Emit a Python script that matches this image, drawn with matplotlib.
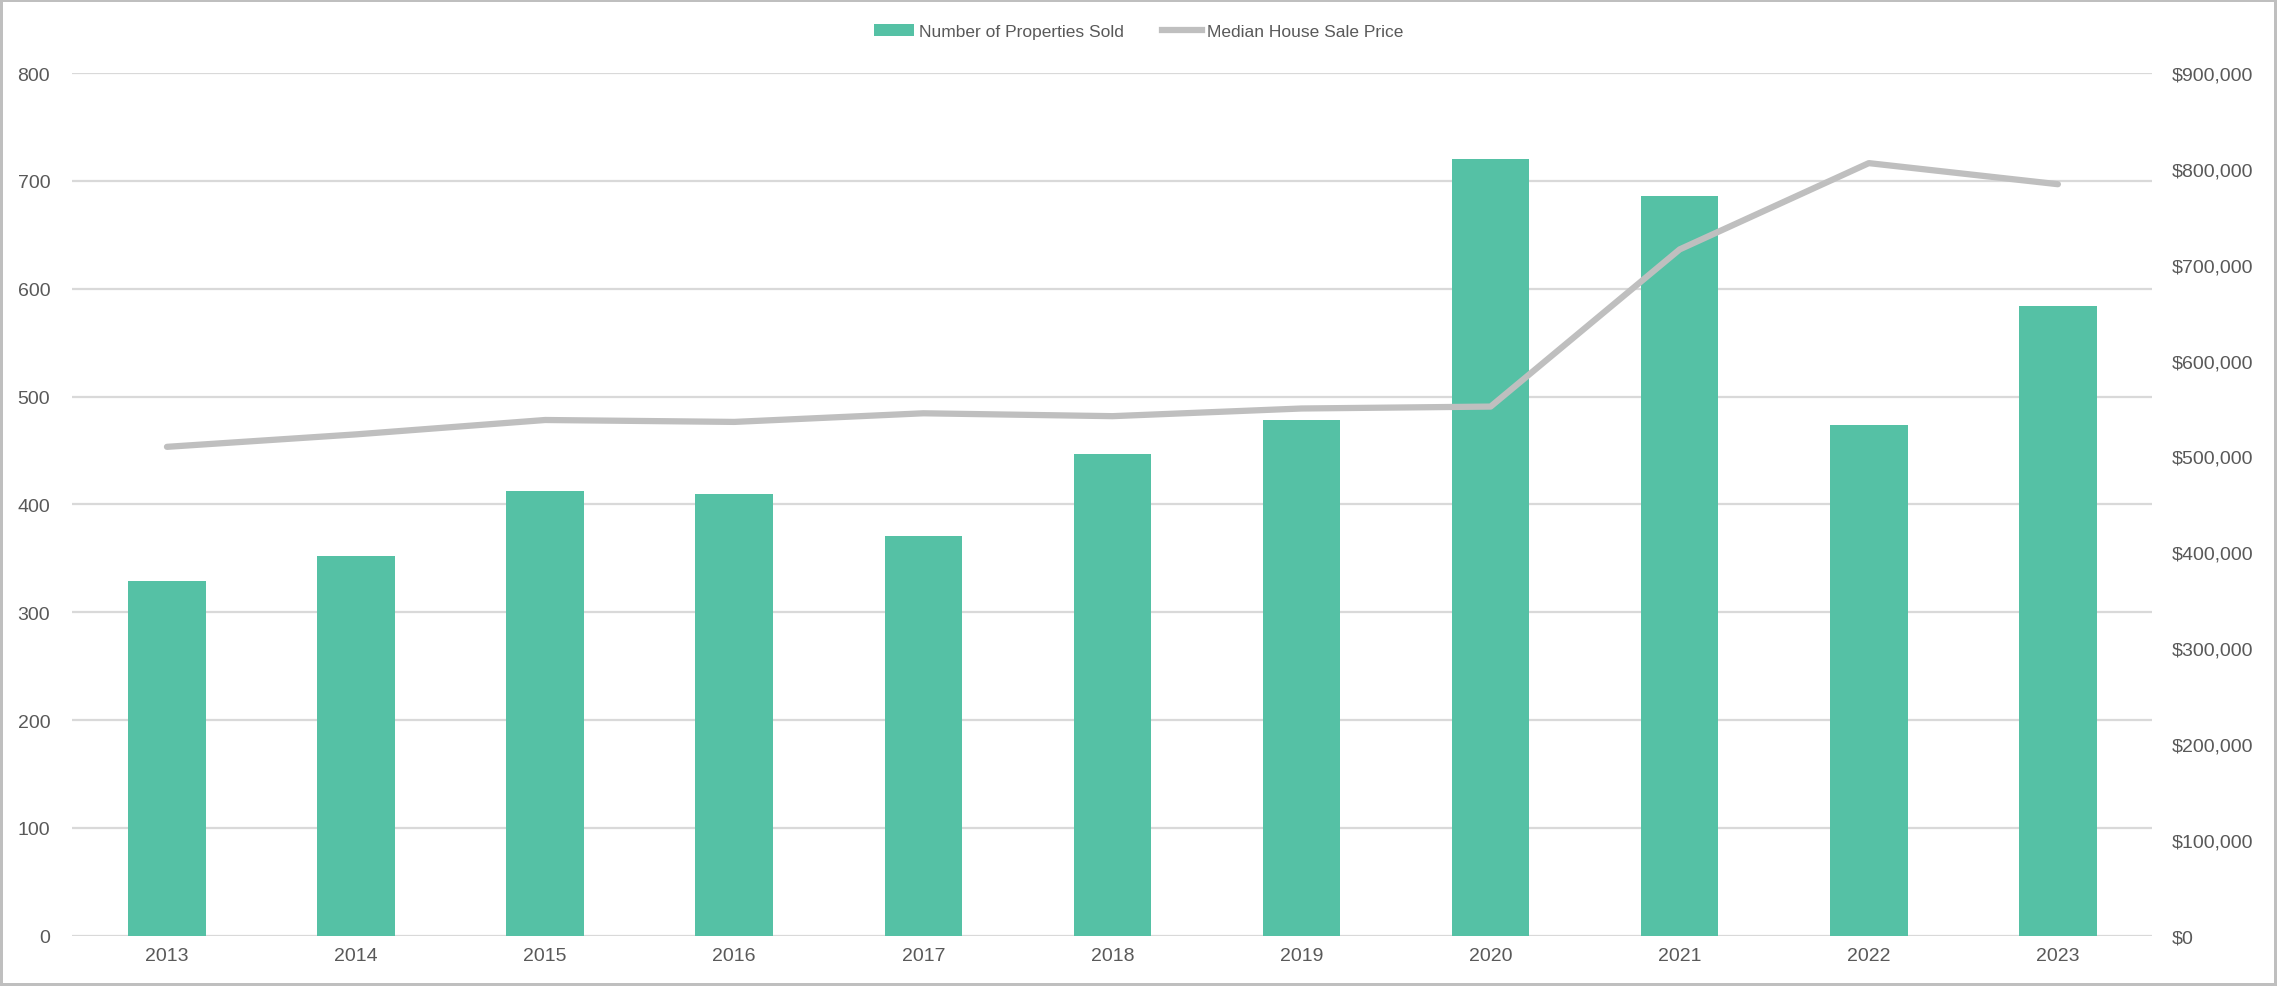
import matplotlib.pyplot as plt
import numpy as np
from matplotlib.ticker import FuncFormatter
from matplotlib.lines import Line2D
from matplotlib.patches import Patch

plt.rcParams['font.family'] = ['Liberation Sans', 'DejaVu Sans']

years = ['2013', '2014', '2015', '2016', '2017', '2018', '2019', '2020', '2021', '2022', '2023']
properties_sold = [329, 352, 412, 410, 371, 447, 478, 720, 686, 474, 584]
median_price = [510000, 523000, 538000, 536000, 545000, 542000, 550000, 552000, 716000, 806000, 784000]

bar_color = '#55C1A5'
line_color = '#BFBFBF'
grid_color = '#D9D9D9'
text_color = '#595959'

fig = plt.figure(figsize=(22.77, 9.87), dpi=100)
fig.patch.set_edgecolor('#BFBFBF')
fig.patch.set_linewidth(4)
ax = fig.add_axes([0.0318, 0.051, 0.9135, 0.874])
ax2 = ax.twinx()

x = np.arange(len(years))
ax.bar(x, properties_sold, width=0.41, color=bar_color, zorder=2)
ax2.plot(x, median_price, color=line_color, linewidth=4.5, solid_capstyle='round', zorder=3)

ax.set_xlim(-0.5, len(years) - 0.5)
ax.set_ylim(0, 800)
ax.set_yticks(range(0, 801, 100))
ax2.set_ylim(0, 900000)
ax2.set_yticks(range(0, 900001, 100000))
ax2.yaxis.set_major_formatter(FuncFormatter(lambda v, p: f'${v:,.0f}'))

ax.set_xticks(x)
ax.set_xticklabels(years)
ax.grid(True, axis='y', color=grid_color, linewidth=1.6, zorder=0)
ax.set_axisbelow(True)

for a in (ax, ax2):
    for s in a.spines.values():
        s.set_visible(False)
ax.tick_params(axis='y', length=0, pad=16, labelsize=14, labelcolor=text_color)
ax.tick_params(axis='x', length=0, pad=8, labelsize=14, labelcolor=text_color)
ax2.tick_params(axis='y', length=0, pad=14, labelsize=14, labelcolor=text_color)

handles = [Patch(facecolor=bar_color, label='Number of Properties Sold'),
           Line2D([0], [0], color=line_color, linewidth=4.5, label='Median House Sale Price')]
fig.legend(handles=handles, loc='center', bbox_to_anchor=(0.5, 0.967), ncol=2,
           frameon=False, fontsize=12.5, labelcolor=text_color,
           handlelength=2.3, handletextpad=0.3, columnspacing=2.2)

plt.savefig('out.png', dpi=100)
